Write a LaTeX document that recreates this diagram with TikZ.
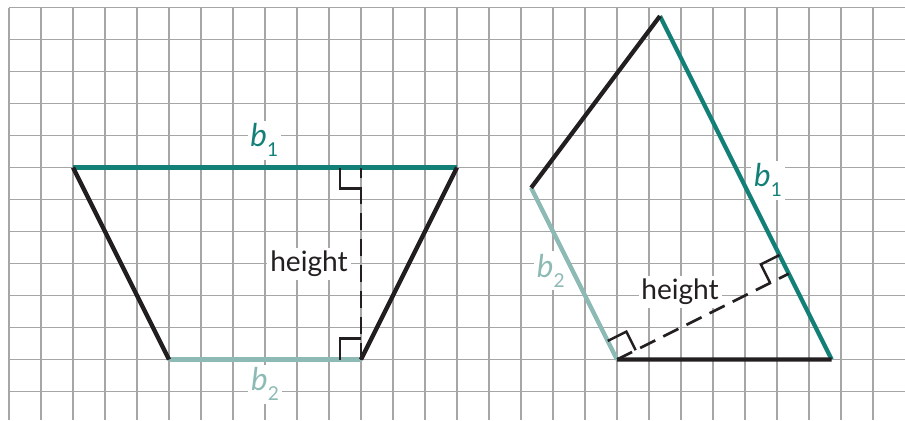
\documentclass[tikz,border=0pt]{standalone}
\usepackage{fontspec}
\setmainfont{Lato}
\definecolor{baseone}{HTML}{138078}
\definecolor{basetwo}{HTML}{8DBAB5}
\definecolor{inkdark}{HTML}{231F20}
\definecolor{gridgray}{HTML}{A6A6A6}
\newcommand{\bsub}[1]{{\fontsize{28}{30}\selectfont\textit{b}}\raisebox{-9pt}{\fontsize{17}{18}\selectfont #1}}
\tikzset{
  gridline/.style={draw=gridgray, line width=1.3pt},
  lbl/.style={fill=white, inner sep=2.5pt, anchor=base, font=\fontsize{25}{28}\selectfont},
  blbl/.style={lbl, text=baseone},
  blbltwo/.style={lbl, text=basetwo},
  hlbl/.style={lbl, text=inkdark},
  sideone/.style={draw=baseone, line width=3.8pt},
  sidetwo/.style={draw=basetwo, line width=3.8pt},
  leg/.style={draw=inkdark, line width=3.8pt},
  heightline/.style={draw=inkdark, line width=2.4pt, dash pattern=on 15pt off 8pt},
  rightmark/.style={draw=inkdark, line width=2.2pt},
  trap/.pic={
    \coordinate (-B2) at (0,0);
    \coordinate (-B1) at (-6,0);
    \coordinate (-T2) at (3,6);
    \coordinate (-T1) at (-9,6);
    \coordinate (-F) at (0,6);
    \draw[sidetwo] (-B1) -- (-B2);
    \draw[sideone] (-T1) -- (-T2);
    \draw[leg] (-B1) -- (-T1);
    \draw[leg] (-B2) -- (-T2);
    \draw[heightline] (-B2) -- (-F);
    \draw[rightmark] (-0.65,6) -- (-0.65,5.35) -- (0,5.35);
    \draw[rightmark] (-0.65,0) -- (-0.65,0.65) -- (0,0.65);
  }
}
\begin{document}
\begin{tikzpicture}[x=1cm,y=1cm]
\useasboundingbox (-0.28125,0.234375) rectangle (28,-12.890625);
\fill[white] (-0.28125,0.234375) rectangle (28,-12.890625);
% grid
\foreach \i in {0,...,27} \draw[gridline] (\i,0) -- (\i,-12.890625);
\foreach \j in {0,...,12} \draw[gridline] (0,-\j) -- (28,-\j);
% labels
\node[blbl] (bonel) at (7.98,-4.35) {\bsub{1}};
\node[blbltwo] (btwol) at (8.0,-11.98) {\bsub{2}};
\node[hlbl] (hl) at (9.375,-8.256) {height};
\node[blbltwo] (btwor) at (16.93,-8.43) {\bsub{2}};
\node[blbl] (boner) at (23.72,-5.6) {\bsub{1}};
\node[hlbl] (hr) at (20.97,-9.14) {height};
% trapezoids
\pic (left) at (11,-11) {trap};
\pic[rotate=-63.4349] (right) at (19,-11) {trap};
\end{tikzpicture}
\end{document}
